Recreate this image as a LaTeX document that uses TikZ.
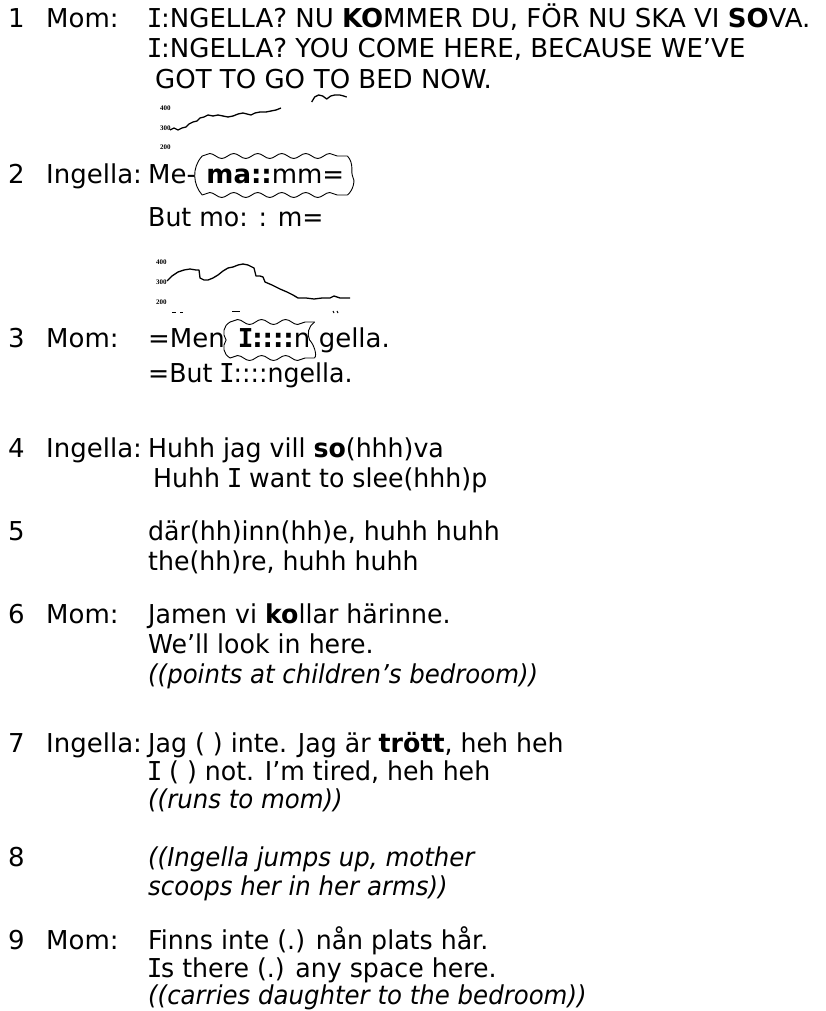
\documentclass[tikz,border=0pt]{standalone}
\usepackage{fontspec}
\setmainfont{DejaVu Sans}
\newfontfamily\lcfam{DejaVu Sans}[FakeStretch=0.97]
\newfontfamily\itfam{DejaVu Sans}[FakeStretch=0.94]
\newfontfamily\monoI{DejaVu Sans Mono}
\newfontfamily\labfont{Liberation Serif}
\usetikzlibrary{decorations.pathmorphing}
\newcommand\Is{\makebox[0.5em][c]{\monoI I}}
\begin{document}
\begin{tikzpicture}[x=1pt,y=-1pt,
  txt/.style={anchor=base west,inner sep=0pt,font=\fontsize{26}{31}\selectfont},
  lc/.style={txt,font=\fontsize{26}{31}\selectfont\lcfam},
  it/.style={txt,font=\fontsize{26}{31}\selectfont\itfam\itshape},
  num/.style={txt},
  lab/.style={anchor=west,inner sep=0pt,font=\labfont\bfseries\fontsize{7}{7}\selectfont},
  trace/.style={line width=1.3pt,line join=round},
  wave/.style={line width=0.9pt,decorate,decoration={snake,segment length=24pt,amplitude=2.5pt}},
  side/.style={line width=0.9pt},
  tick/.style={line width=1pt}]
\useasboundingbox (0,0) rectangle (826,1011);
% turn 1
\node[num] (n1) at (8,28) {1};
\node[txt] (s1) at (46,28) {Mom:};
\node[txt] (t1a) at (148,28) {\Is:NGELLA? NU \textbf{KO}MMER DU, FÖR NU SKA VI \textbf{SO}VA.};
\node[txt] (t1b) at (148,58) {\Is:NGELLA? YOU COME HERE, BECAUSE WE’VE};
\node[txt] (t1c) at (155,89) {GOT TO GO};
\node[txt] (t1d) at ([xshift=8.3pt]t1c.base east) {TO BED NOW.};
% pitch 1
\node[lab] (p1a) at (160,108) {400};
\node[lab] (p1b) at (160,128) {300};
\node[lab] (p1c) at (160,147) {200};
\draw[trace] plot coordinates {(170,130) (174,128) (178,130) (182,128) (186,127) (189,124) (193,122) (197,121) (200,118) (204,117) (208,115) (213,116) (218,115) (223,116) (228,117) (233,116) (238,114) (243,113) (247,114) (251,115) (255,113) (260,112) (266,112) (271,111) (276,110) (281,108)};
\draw[trace] ([xshift=-2pt,yshift=-13pt]t1d.base west) -- ++(3,-5) -- ++(4,-2) -- ++(4,1) -- ++(4,3) -- ++(4,-3) -- ++(4,-1) -- ++(5,0) -- ++(4,1) -- ++(3,1);
% turn 2
\node[num] (n2) at (8,184) {2};
\node[txt] (s2) at (46,184) {Ingella:};
\node[txt] (t2a) at (148,184) {Me-};
\node[txt] (t2box) at ([xshift=10pt]t2a.base east) {\textbf{ma::}mm=};
\coordinate (b2tl) at ([xshift=-4pt,yshift=28pt]t2box.base west);
\coordinate (b2bl) at ([xshift=-4pt,yshift=-11pt]t2box.base west);
\coordinate (b2tr) at ([xshift=3pt,yshift=28pt]t2box.base east);
\coordinate (b2br) at ([xshift=3pt,yshift=-11pt]t2box.base east);
\draw[wave] (b2tl) -- (b2tr);
\draw[wave] (b2bl) -- (b2br);
\draw[side] (b2tl) .. controls ([xshift=-11pt,yshift=-12pt]b2tl) and ([xshift=-9pt,yshift=10pt]b2bl) .. (b2bl);
\draw[side] (b2tr) .. controls ([xshift=7pt,yshift=-8pt]b2tr) and ([xshift=3pt,yshift=-17pt]b2tr) .. ([xshift=5pt,yshift=-20pt]b2tr) .. controls ([xshift=8pt,yshift=-24pt]b2tr) and ([xshift=6pt,yshift=5pt]b2br) .. (b2br);
\node[lc] (t2b) at (148,226) {But mo: : m=};
% pitch 2
\node[lab] (p2a) at (156,262) {400};
\node[lab] (p2b) at (156,282) {300};
\node[lab] (p2c) at (156,302) {200};
\draw[trace] plot coordinates {(167,281) (172,276) (178,272) (184,270) (190,269) (196,270) (199,270) (200,278) (204,280) (208,280) (213,278) (218,275) (223,271) (228,268) (233,267) (238,265) (243,264) (248,265) (252,267) (254,268) (256,276) (260,276) (263,277) (265,282) (272,285) (280,289) (287,292) (293,295) (298,298) (306,298) (314,299) (322,298) (330,298) (334,296) (340,298) (350,298)};
\draw[tick] (172,312) -- (176,312);
\draw[tick] (180,312) -- (183,312);
\draw[tick] (232,311) -- (240,311);
\draw[tick] (333,311) -- (334,313);
\draw[tick] (337,311) -- (338,313);
% turn 3
\node[num] (n3) at (8,347) {3};
\node[txt] (s3) at (46,347) {Mom:};
\node[txt] (t3a) at (148,347) {=Men};
\node[txt] (t3box) at ([xshift=14pt]t3a.base east) {\textbf{\Is::::}n};
\node[txt] (t3c) at ([xshift=8pt]t3box.base east) {gella.};
\coordinate (b3tl) at ([xshift=-9pt,yshift=25pt]t3box.base west);
\coordinate (b3bl) at ([xshift=-9pt,yshift=-11pt]t3box.base west);
\coordinate (b3tr) at ([xshift=4pt,yshift=25pt]t3box.base east);
\coordinate (b3br) at ([xshift=4pt,yshift=-11pt]t3box.base east);
\draw[wave] (b3tl) -- (b3tr);
\draw[wave] (b3bl) -- (b3br);
\draw[side] (b3tl) .. controls ([xshift=-7pt,yshift=-4pt]b3tl) and ([xshift=-8pt,yshift=-12pt]b3tl) .. ([xshift=-4pt,yshift=-18pt]b3tl) .. controls ([xshift=-8pt,yshift=-24pt]b3tl) and ([xshift=-7pt,yshift=4pt]b3bl) .. (b3bl);
\draw[side] (b3tr) .. controls ([xshift=-6pt,yshift=-4pt]b3tr) and ([xshift=-8pt,yshift=-12pt]b3tr) .. ([xshift=-5pt,yshift=-18pt]b3tr) .. controls ([xshift=-1pt,yshift=-22pt]b3tr) and ([xshift=3pt,yshift=3pt]b3br) .. (b3br);
\node[lc] (t3b) at (148,382) {=But \Is::::ngella.};
% turn 4
\node[num] (n4) at (8,457) {4};
\node[txt] (s4) at (46,457) {Ingella:};
\node[lc] (t4a) at (148,457) {Huhh jag vill \textbf{so}(hhh)va};
\node[lc] (t4b) at (153,487) {Huhh \Is{} want to slee(hhh)p};
% turn 5
\node[num] (n5) at (8,540) {5};
\node[lc] (t5a) at (148,540) {där(hh)inn(hh)e, huhh huhh};
\node[lc] (t5b) at (148,570) {the(hh)re, huhh huhh};
% turn 6
\node[num] (n6) at (8,623) {6};
\node[txt] (s6) at (46,623) {Mom:};
\node[lc] (t6a) at (148,623) {Jamen vi \textbf{ko}llar härinne.};
\node[lc] (t6b) at (148,653) {We’ll look in here.};
\node[it] (t6c) at (148,683) {((points at children’s bedroom))};
% turn 7
\node[num] (n7) at (8,752) {7};
\node[txt] (s7) at (46,752) {Ingella:};
\node[lc] (t7a) at (148,752) {Jag ( ) inte. Jag är \textbf{trött}, heh heh};
\node[lc] (t7b) at (148,780) {\Is{} ( ) not. I’m tired, heh heh};
\node[it] (t7c) at (148,808) {((runs to mom))};
% turn 8
\node[num] (n8) at (8,866) {8};
\node[it] (t8a) at (148,866) {((Ingella jumps up, mother};
\node[it] (t8b) at (148,895) {scoops her in her arms))};
% turn 9
\node[num] (n9) at (8,949) {9};
\node[txt] (s9) at (46,949) {Mom:};
\node[lc] (t9a) at (148,949) {Finns inte (.) nån plats hår.};
\node[lc] (t9b) at (148,977) {\Is s there (.) any space here.};
\node[it] (t9c) at (148,1004) {((carries daughter to the bedroom))};
\end{tikzpicture}
\end{document}
